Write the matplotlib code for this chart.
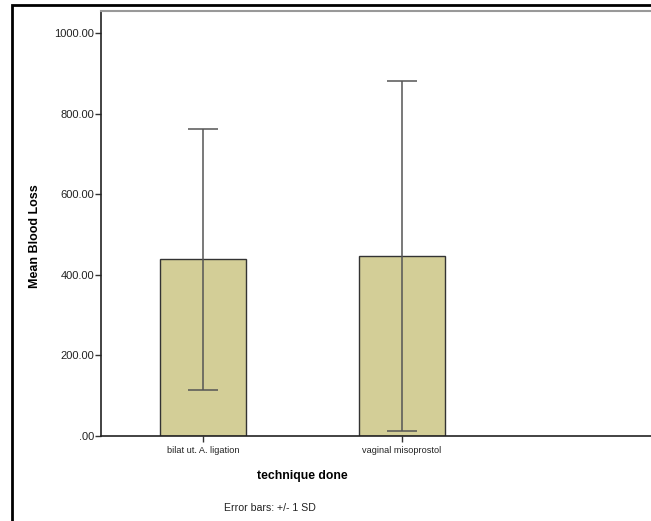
import matplotlib.pyplot as plt
from matplotlib.patches import Rectangle

plt.rcParams['font.family'] = ['Liberation Sans', 'DejaVu Sans']

categories = ['bilat ut. A. ligation', 'vaginal misoprostol']
mean_loss = [438, 447]
sd_loss = [324, 434]
yticks = [0, 200, 400, 600, 800, 1000]
ytick_labels = ['.00', '200.00', '400.00', '600.00', '800.00', '1000.00']

W, H = 651, 521
fig = plt.figure(figsize=(W / 100, H / 100), dpi=100)

# outer frame (cut off at right/bottom like the screenshot)
fig.patches.append(Rectangle((11.5 / W, -0.05), 1.2, (H - 5.5) / H + 0.05,
                             transform=fig.transFigure, fill=False,
                             edgecolor='black', linewidth=2))

left, right, bottom, top = 101, 665, 436, 11
ax = fig.add_axes([left / W, (H - bottom) / H, (right - left) / W, (bottom - top) / H])

x = list(range(len(categories)))
ax.bar(x, mean_loss, width=0.432, color='#D3CE97', edgecolor='#333333', linewidth=1, zorder=2)
ax.errorbar(x, mean_loss, yerr=sd_loss, fmt='none', ecolor='#555555',
            elinewidth=1.1, capsize=10.8, capthick=1.1, zorder=3)

ax.set_xlim((left - 203) / 199, (right - 203) / 199)
ax.set_ylim(0, 1000 * (bottom - top) / 403)

ax.set_yticks(yticks)
ax.set_yticklabels(ytick_labels, fontsize=8, color='#222222')
ax.set_xticks(x)
ax.set_xticklabels(categories, fontsize=6.6, color='#222222')
ax.tick_params(axis='y', length=4, width=1, pad=1, color='#333333')
ax.tick_params(axis='x', length=4, width=1, pad=3, color='#333333')

for s in ['left', 'bottom']:
    ax.spines[s].set_color('#222222')
    ax.spines[s].set_linewidth(1.2)
ax.spines['top'].set_color('#999999')
ax.spines['top'].set_linewidth(1.5)
ax.spines['right'].set_visible(False)

fig.text(35 / W, 1 - 236 / H, 'Mean Blood Loss', rotation=90, fontsize=9,
         fontweight='bold', ha='center', va='center')
fig.text(302 / W, 1 - 476 / H, 'technique done', fontsize=8.8,
         fontweight='bold', ha='center', va='center')
fig.text(270 / W, 1 - 508 / H, 'Error bars: +/- 1 SD', fontsize=7.6,
         ha='center', va='center', color='#222222')

fig.savefig('out.png', dpi=100)
